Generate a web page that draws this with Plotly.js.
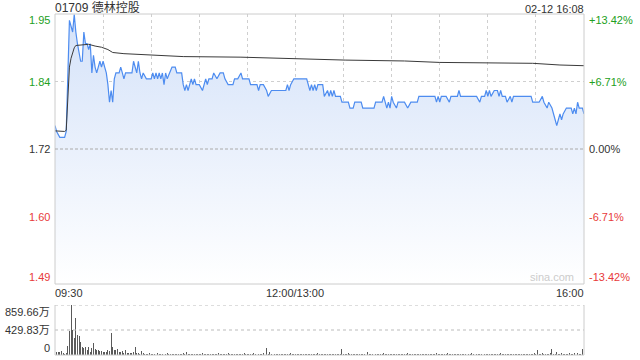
<!DOCTYPE html>
<html>
<head>
<meta charset="utf-8">
<script src="https://cdn.plot.ly/plotly-3.0.1.min.js"></script>
<style>html,body{margin:0;padding:0;background:#fff;}#chart{width:640px;height:360px;}</style>
</head>
<body>
<div id="chart"></div>
<script>
// ---- data (trading minutes since 09:30; afternoon continues after 150) ----
const titleText = "01709 德林控股";
const dateText = "02-12 16:08";
const prevClose = 1.72;
const priceTicks = [1.4892, 1.6046, 1.72, 1.8354, 1.9508];
const priceTickLabels = ["1.49", "1.60", "1.72", "1.84", "1.95"];
const pctTickLabels = ["-13.42%", "-6.71%", "0.00%", "+6.71%", "+13.42%"];
const timeLabels = ["09:30", "12:00/13:00", "16:00"];
const timeLabelPos = [0, 150, 330];
const volMax = 859.66;
const volTickLabels = ["0", "429.83万", "859.66万"];

const priceT = [0,1,3,6,7,9,11,12,13,14,16,17,18,19,20,21,22,23,24,25,26,27,28,29,30,31,32,33,34,35,36,37,38,40,41,42,43,44,48,49,50,51,52,53,54,55,57,60,61,62,63,64,65,66,67,68,69,70,73,75,76,79,80,81,82,83,84,85,86,87,88,90,92,93,94,95,96,98,99,101,103,105,106,108,110,111,112,114,116,117,121,122,126,127,128,130,132,133,135,144,145,146,147,149,157,159,160,161,162,163,164,167,168,170,171,172,173,174,175,178,179,183,184,186,187,191,192,199,200,204,205,206,207,208,209,210,211,213,214,218,220,222,226,227,237,238,239,240,241,244,246,247,251,252,253,263,265,266,268,269,270,271,272,274,276,277,278,279,281,282,284,285,286,297,298,302,304,305,307,308,310,312,313,314,315,316,317,319,322,323,324,325,326,327,329,330];
const priceV = [1.76,1.75,1.74,1.74,1.75,1.94,1.92,1.95,1.92,1.90,1.87,1.87,1.92,1.90,1.90,1.89,1.90,1.85,1.88,1.86,1.85,1.86,1.87,1.86,1.87,1.86,1.85,1.83,1.80,1.82,1.80,1.84,1.85,1.85,1.86,1.85,1.84,1.85,1.85,1.87,1.86,1.85,1.87,1.85,1.84,1.85,1.84,1.84,1.85,1.84,1.85,1.84,1.85,1.84,1.85,1.83,1.85,1.84,1.86,1.86,1.85,1.85,1.83,1.82,1.83,1.82,1.83,1.84,1.83,1.84,1.83,1.83,1.82,1.83,1.84,1.83,1.84,1.84,1.85,1.84,1.85,1.85,1.84,1.83,1.83,1.83,1.84,1.84,1.85,1.84,1.84,1.83,1.83,1.82,1.83,1.83,1.82,1.81,1.82,1.82,1.83,1.82,1.83,1.84,1.84,1.82,1.83,1.82,1.83,1.82,1.83,1.83,1.81,1.82,1.81,1.82,1.81,1.82,1.81,1.81,1.80,1.80,1.79,1.79,1.80,1.80,1.79,1.79,1.80,1.80,1.81,1.80,1.79,1.80,1.79,1.81,1.80,1.79,1.80,1.80,1.79,1.80,1.80,1.81,1.81,1.80,1.81,1.80,1.81,1.81,1.80,1.81,1.81,1.82,1.81,1.81,1.80,1.81,1.81,1.82,1.81,1.82,1.81,1.82,1.82,1.81,1.82,1.81,1.81,1.80,1.81,1.80,1.81,1.81,1.80,1.80,1.81,1.80,1.79,1.80,1.79,1.77,1.76,1.77,1.78,1.77,1.78,1.79,1.79,1.78,1.79,1.78,1.80,1.79,1.79,1.78];

const avgT = [0,6,7,8,9,10,12,13,21,25,29,33,36,43,59,80,116,127,151,181,218,240,298,315,330];
const avgV = [1.751,1.750,1.752,1.80,1.86,1.875,1.893,1.897,1.899,1.896,1.894,1.890,1.885,1.883,1.881,1.878,1.877,1.876,1.874,1.872,1.8705,1.868,1.8665,1.8636,1.8624];

const volumes = [
70,60,55,50,65,30,25,40,155,412,859.66,430,300,630,344,327,230,132,115,130,90,140,60,115,212,100,90,85,75,75,60,55,50,85,70,384,140,85,90,95,50,45,70,40,85,35,30,40,30,60,132,35,30,25,70,
30,20,25,15,30,20,15,25,20,30,15,20,25,15,20,30,15,20,25,15,
20,15,25,20,15,30,20,50,20,15,25,20,15,20,25,15,20,30,15,20,
25,15,20,15,25,20,15,30,20,15,20,25,15,40,20,15,25,20,15,20,
25,15,20,30,15,20,25,15,20,40,15,20,25,15,20,30,85,120,20,50,
25,15,20,15,25,20,15,20,25,15,20,15,30,20,15,25,20,15,20,25,
15,20,25,15,20,15,25,20,15,30,20,15,20,25,15,20,15,25,20,15,
20,25,15,20,103,25,15,20,30,15,20,25,15,20,15,25,20,15,20,25,
50,20,15,25,20,15,20,25,15,20,30,15,20,25,15,20,15,25,20,15,
20,25,15,20,15,30,20,15,25,20,15,20,25,15,20,15,25,20,15,20,
25,15,20,40,15,20,25,15,20,15,30,20,15,25,20,15,20,25,15,20,
15,25,20,15,20,30,15,20,25,15,20,15,25,20,15,20,25,15,20,15,
25,20,15,30,20,15,25,20,15,20,25,15,20,15,25,20,15,20,25,15,
20,15,25,20,30,25,85,20,25,30,20,15,25,20,30,95,25,20,55,25,
20,30,25,20,15,25,30,20,25,35,20,30,25,20,97,40];
const volT = volumes.map((v, i) => i);

// ---- styles ----
const FONT = "Liberation Sans, Arial, Noto Sans CJK SC, sans-serif";
const GREEN = "#22a022";
const RED = "#e83a3a";
const DARK = "#333333";
const GRID = "#cfcfcf";
const BORDER = "#cccccc";
const labelColor = [RED, RED, DARK, GREEN, GREEN];
const labelShift = [7, 0, 0, 0, -6];

const traces = [
  {
    x: priceT, y: priceV, type: "scatter", mode: "lines",
    line: {color: "#4d8cf0", width: 1.2},
    fill: "tozeroy",
    fillgradient: {type: "vertical", start: priceTicks[0], stop: priceTicks[4],
      colorscale: [[0, "rgba(255,255,255,1)"], [1, "rgb(212,226,249)"]]},
    hoverinfo: "skip", xaxis: "x", yaxis: "y"
  },
  {
    x: avgT, y: avgV, type: "scatter", mode: "lines",
    line: {color: "#3a3a3a", width: 1},
    hoverinfo: "skip", xaxis: "x", yaxis: "y"
  },
  {
    x: volT, y: volumes, type: "bar", width: 0.6,
    marker: {color: "#5a5a5a", line: {width: 0}},
    hoverinfo: "skip", xaxis: "x2", yaxis: "y2"
  }
];

const annotations = [];
priceTicks.forEach((v, i) => {
  annotations.push({xref: "paper", yref: "y", x: 0, y: v, xanchor: "right", yanchor: "middle",
    xshift: -3, yshift: labelShift[i], text: priceTickLabels[i], showarrow: false,
    font: {family: FONT, size: 11, color: labelColor[i]}});
  annotations.push({xref: "paper", yref: "y", x: 1, y: v, xanchor: "left", yanchor: "middle",
    xshift: 3, yshift: labelShift[i], text: pctTickLabels[i], showarrow: false,
    font: {family: FONT, size: 11, color: labelColor[i]}});
});
const tAnch = ["left", "center", "right"];
timeLabels.forEach((t, i) => {
  annotations.push({xref: "x", yref: "y domain", x: timeLabelPos[i], y: 0, xanchor: tAnch[i], yanchor: "top",
    xshift: i === 0 ? -2 : (i === 2 ? 2 : 0), yshift: -1, text: t, showarrow: false,
    font: {family: FONT, size: 11, color: DARK}});
});
const volVals = [0, volMax / 2, volMax];
const volShift = [7, 0, -7];
volVals.forEach((v, i) => {
  annotations.push({xref: "paper", yref: "y2", x: 0, y: v, xanchor: "right", yanchor: "middle",
    xshift: -3, yshift: volShift[i], text: volTickLabels[i], showarrow: false,
    font: {family: FONT, size: 11, color: DARK}});
});
annotations.push({xref: "paper", yref: "y domain", x: 0, y: 1, xanchor: "left", yanchor: "bottom",
  xshift: -2, yshift: -3, text: titleText, showarrow: false, font: {family: FONT, size: 12, color: DARK}});
annotations.push({xref: "paper", yref: "y domain", x: 1, y: 1, xanchor: "right", yanchor: "bottom",
  xshift: 2, yshift: -3, text: dateText, showarrow: false, font: {family: FONT, size: 11, color: DARK}});
annotations.push({xref: "paper", yref: "y domain", x: 1, y: 0, xanchor: "right", yanchor: "bottom",
  xshift: -8, yshift: -1, text: "sina.com", showarrow: false, font: {family: FONT, size: 11, color: "#cccccc"}});

const shapes = [
  {type: "rect", xref: "x domain", yref: "y domain", x0: 0, x1: 1, y0: 0, y1: 1, line: {color: BORDER, width: 1}},
  {type: "line", xref: "x domain", yref: "y", x0: 0, x1: 1, y0: prevClose, y1: prevClose, line: {color: "#aaaaaa", width: 1, dash: "3px,2px"}},
  {type: "line", xref: "x2 domain", yref: "y2", x0: 0, x1: 1, y0: volMax, y1: volMax, line: {color: "#bbbbbb", width: 1, dash: "dot"}},
  {type: "line", xref: "x2 domain", yref: "y2", x0: 0, x1: 1, y0: volMax / 2, y1: volMax / 2, line: {color: "#bbbbbb", width: 1, dash: "dot"}},
  {type: "line", xref: "x2 domain", yref: "y2 domain", x0: 0, x1: 0, y0: 0, y1: 1, line: {color: BORDER, width: 1}},
  {type: "line", xref: "x2 domain", yref: "y2 domain", x0: 1, x1: 1, y0: 0, y1: 1, line: {color: BORDER, width: 1}},
  {type: "line", xref: "x2 domain", yref: "y2 domain", x0: 0, x1: 1, y0: 0, y1: 0, line: {color: BORDER, width: 1}}
];

const layout = {
  width: 640, height: 360,
  margin: {l: 55, r: 56, t: 14, b: 5},
  paper_bgcolor: "#ffffff", plot_bgcolor: "#ffffff",
  showlegend: false,
  font: {family: FONT, size: 11, color: DARK},
  xaxis: {domain: [0, 1], range: [0, 330], anchor: "y",
    tickvals: [30, 60, 90, 120, 150, 180, 210, 240, 270, 300],
    showticklabels: false, ticks: "", showgrid: true, gridcolor: GRID, griddash: "dot", gridwidth: 1,
    zeroline: false, showline: false, fixedrange: true},
  yaxis: {domain: [0.2082, 1], range: [priceTicks[0], priceTicks[4]], anchor: "x",
    tickvals: [priceTicks[1], priceTicks[3]], showticklabels: false, ticks: "",
    showgrid: true, gridcolor: GRID, griddash: "dot", gridwidth: 1, zeroline: false, showline: false, fixedrange: true},
  xaxis2: {domain: [0, 1], range: [0, 330], anchor: "y2", showticklabels: false, ticks: "",
    showgrid: false, zeroline: false, showline: false, fixedrange: true},
  yaxis2: {domain: [0, 0.1466], range: [0, volMax], anchor: "x2", showticklabels: false, ticks: "",
    showgrid: false, zeroline: false, showline: false, fixedrange: true},
  bargap: 0,
  annotations: annotations,
  shapes: shapes
};

Plotly.newPlot("chart", traces, layout, {displayModeBar: false, staticPlot: true});
</script>
</body>
</html>
